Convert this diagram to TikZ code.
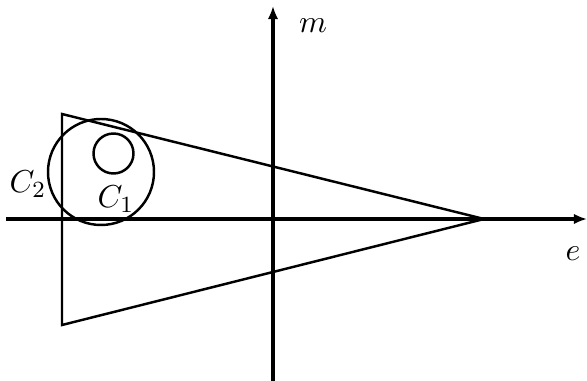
\documentclass[tikz,border=0pt]{standalone}
\usetikzlibrary{arrows.meta}
\tikzset{
  axis/.style={-{Latex[length=4.5pt, width=3.6pt]}, line width=1.5pt},
  edge/.style={line width=0.85pt},
  lbl/.style={font=\fontsize{11}{13}\selectfont, inner sep=0pt},
}

\begin{document}
\begin{tikzpicture}[x=0.345pt, y=-0.345pt]
  \useasboundingbox (0,0) rectangle (587,381);
  % axes
  \coordinate (xl) at (6,219);
  \coordinate (xr) at (587,219);
  \coordinate (yb) at (273,381);
  \coordinate (yt) at (273,6);
  \draw[axis] (xl) -- (xr);
  \draw[axis] (yb) -- (yt);
  \node[lbl, anchor=base] (m) at (313,33) {$m$};
  \node[lbl, anchor=base] (e) at (573,261) {$e$};
  % triangle
  \coordinate (ta) at (62,114);
  \coordinate (tb) at (62,325);
  \coordinate (tc) at (484,219);
  \draw[edge] (ta) -- (tb) -- (tc) -- cycle;
  % circles
  \coordinate (c2) at (101,172);
  \coordinate (c1) at (113.5,153.5);
  \draw[edge] (c2) circle[radius=53];
  \draw[edge] (c1) circle[radius=20];
  \node[lbl, anchor=base west] (C2) at (9,193) {$C_2$};
  \node[lbl, anchor=base west] (C1) at (97,208) {$C_1$};
\end{tikzpicture}
\end{document}
